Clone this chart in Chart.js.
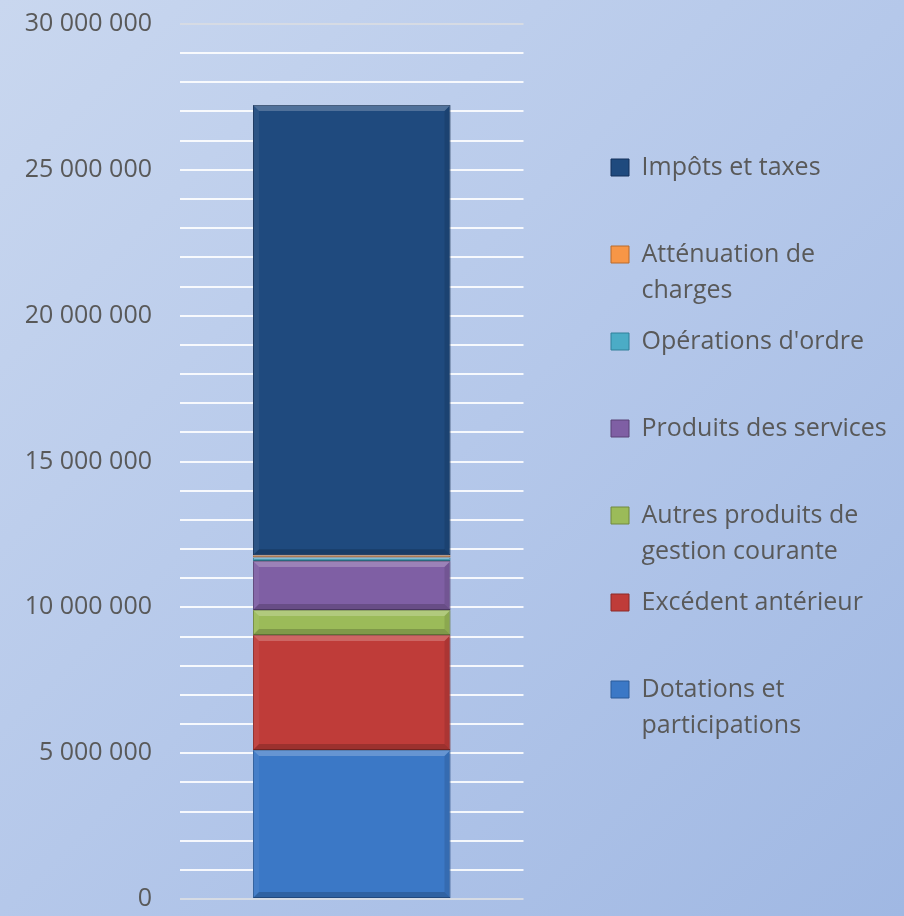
<!DOCTYPE html>
<html>
<head>
<meta charset="utf-8">
<script src="https://cdn.jsdelivr.net/npm/chart.js@4.4.1/dist/chart.umd.min.js"></script>
<style>
  html, body { margin: 0; padding: 0; }
  body {
    width: 904px; height: 916px; overflow: hidden;
    background: linear-gradient(135deg, #c9d7ef 0%, #b5c8ea 50%, #a0b8e3 100%);
  }
  #wrap { position: relative; width: 904px; height: 916px; }
</style>
</head>
<body>
<div id="wrap"><canvas id="budgetChart"></canvas></div>
<script>
// data, bottom of the stack first
const categories = [''];
const seriesNames = [
  'Dotations et participations',
  'Excédent antérieur',
  'Autres produits de gestion courante',
  'Produits des services',
  "Opérations d'ordre",
  'Atténuation de charges',
  'Impôts et taxes'
];
const legendLines = [
  ['Dotations et', 'participations'],
  ['Excédent antérieur', ''],
  ['Autres produits de', 'gestion courante'],
  ['Produits des services', ''],
  ["Opérations d'ordre", ''],
  ['Atténuation de', 'charges'],
  ['Impôts et taxes', '']
];
const dotations = [5110000];
const excedent = [3940000];
const autresProduits = [860000];
const produitsServices = [1680000];
const operationsOrdre = [120000];
const attenuation = [80000];
const impots = [15430000];
const yMin = 0, yMax = 30000000, yStep = 1000000, labelStep = 5000000;

const fills = ['#3b78c6', '#bf3c39', '#9bbb59', '#7f5fa4', '#4bacc6', '#f79646', '#1f4a7e'];
const edges = ['#2a5a99', '#8c2a28', '#71893f', '#5a4276', '#31809a', '#b86a2c', '#14315a'];
const seriesValues = [dotations, excedent, autresProduits, produitsServices, operationsOrdre, attenuation, impots];

const FONT = '"Open Sans", "Noto Sans", sans-serif';
const FONT_SIZE = 25;
const TEXT = '#595959';

// measure longest legend line so the plot and legend keep their place
const mctx = document.createElement('canvas').getContext('2d');
mctx.font = FONT_SIZE + 'px ' + FONT;
let longest = 0;
legendLines.forEach(l => l.forEach(t => { longest = Math.max(longest, mctx.measureText(t).width); }));
const legendWidth = 15 + 18 + FONT_SIZE / 2 + longest + 10.5;
const textStart = 641;
const legendLeft = textStart - FONT_SIZE / 2 - 18 - 15;
const rightPad = Math.max(0, 904 - legendLeft - legendWidth);
const plotRight = 523;
const gapWidth = Math.max(0, legendLeft - plotRight);

function fmt(v){
  return String(v).replace(/\B(?=(\d{3})+(?!\d))/g, ' ');
}

// light / dark bevel on each bar piece
const bevel = {
  id: 'bevel',
  afterDatasetsDraw(chart){
    const ctx = chart.ctx;
    chart.data.datasets.forEach((ds, i) => {
      const meta = chart.getDatasetMeta(i);
      meta.data.forEach(el => {
        const p = el.getProps(['x', 'y', 'base', 'width'], true);
        const l = p.x - p.width / 2, r = p.x + p.width / 2;
        const t = Math.min(p.y, p.base), b = Math.max(p.y, p.base);
        const h = b - t;
        const s = Math.min(6, h / 2);
        if (s <= 0.5) return;
        ctx.save();
        ctx.fillStyle = 'rgba(255,255,255,0.22)';
        ctx.beginPath();
        ctx.moveTo(l, t); ctx.lineTo(r, t); ctx.lineTo(r - s, t + s); ctx.lineTo(l + s, t + s);
        ctx.closePath(); ctx.fill();
        ctx.fillStyle = 'rgba(0,0,0,0.18)';
        ctx.beginPath();
        ctx.moveTo(l, b); ctx.lineTo(r, b); ctx.lineTo(r - s, b - s); ctx.lineTo(l + s, b - s);
        ctx.closePath(); ctx.fill();
        ctx.fillStyle = 'rgba(255,255,255,0.06)';
        ctx.beginPath();
        ctx.moveTo(l, t); ctx.lineTo(l + s, t + s); ctx.lineTo(l + s, b - s); ctx.lineTo(l, b);
        ctx.closePath(); ctx.fill();
        ctx.fillStyle = 'rgba(0,0,0,0.10)';
        ctx.beginPath();
        ctx.moveTo(r, t); ctx.lineTo(r - s, t + s); ctx.lineTo(r - s, b - s); ctx.lineTo(r, b);
        ctx.closePath(); ctx.fill();
        ctx.restore();
      });
    });
  }
};

const datasets = seriesNames.map((name, i) => ({
  label: name,
  data: seriesValues[i],
  backgroundColor: fills[i],
  borderColor: edges[i],
  borderWidth: 1,
  borderSkipped: false,
  barPercentage: 0.575,
  categoryPercentage: 1
}));

const ctx = document.getElementById('budgetChart').getContext('2d');
new Chart(ctx, {
  type: 'bar',
  data: { labels: categories, datasets: datasets },
  options: {
    responsive: true,
    maintainAspectRatio: false,
    animation: false,
    layout: { padding: { top: 24, bottom: 17, left: 0, right: rightPad } },
    plugins: {
      tooltip: { enabled: false },
      legend: {
        position: 'right',
        align: 'start',
        reverse: true,
        maxWidth: 420,
        title: { display: true, text: '', font: { size: 10, lineHeight: 1 }, padding: { top: 106, bottom: 0 } },
        labels: {
          color: TEXT,
          font: { family: FONT, size: FONT_SIZE, lineHeight: 36 / FONT_SIZE },
          boxWidth: 18,
          boxHeight: 17,
          padding: 15,
          generateLabels(chart){
            const items = Chart.defaults.plugins.legend.labels.generateLabels(chart);
            items.forEach(it => { it.text = legendLines[it.datasetIndex]; it.lineWidth = 1; });
            return items;
          }
        }
      }
    },
    scales: {
      x: { stacked: true, display: false },
      y: {
        stacked: true,
        min: yMin,
        max: yMax,
        afterFit(scale){ scale.width = 180; scale.paddingTop = 0; scale.paddingBottom = 0; },
        border: { display: false },
        grid: {
          drawTicks: false,
          lineWidth: 2,
          color: c => (c.tick && (c.tick.value === yMin || c.tick.value === yMax)) ? '#d6dbe4' : 'rgba(255,255,255,0.88)'
        },
        ticks: {
          stepSize: yStep,
          autoSkip: false,
          padding: 28,
          color: TEXT,
          font: { family: FONT, size: FONT_SIZE },
          callback: v => (v % labelStep === 0) ? fmt(v) : ''
        }
      },
      gap: {
        position: 'right',
        display: true,
        afterFit(scale){ scale.width = gapWidth; scale.paddingTop = 0; scale.paddingBottom = 0; },
        border: { display: false },
        grid: { display: false, drawOnChartArea: false },
        ticks: { display: false }
      }
    }
  },
  plugins: [bevel]
});
</script>
</body>
</html>
